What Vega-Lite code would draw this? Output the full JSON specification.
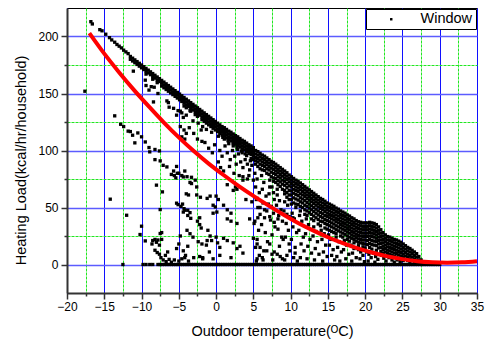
{
"$schema": "https://vega.github.io/schema/vega-lite/v6.json",
"width": 410, "height": 285,
"autosize": {"type": "none"},
"padding": {"left": 67, "top": 8, "right": 11, "bottom": 52},
"background": "white",
"config": {
  "view": {"stroke": "#000000", "strokeWidth": 1},
  "font": "Liberation Sans",
  "axis": {"labelFont": "Liberation Sans", "titleFont": "Liberation Sans", "labelColor": "#000000", "titleColor": "#000000", "titleFontWeight": "normal"}
},
"datasets": {
"fit": [
{"t":-17,"h":203},{"t":-15,"h":185},{"t":-13,"h":168.5},{"t":-11,"h":153},{"t":-9,"h":138.5},{"t":-7,"h":124.5},{"t":-5,"h":111.5},{"t":-3,"h":99.5},{"t":-1,"h":88.5},{"t":1,"h":78.5},{"t":3,"h":69},{"t":5,"h":60.2},{"t":7,"h":51.9},{"t":9,"h":43.9},{"t":11,"h":36.5},{"t":13,"h":29.9},{"t":15,"h":23.9},{"t":17,"h":18.7},{"t":19,"h":14.1},{"t":21,"h":10.3},{"t":23,"h":7.1},{"t":25,"h":4.7},{"t":27,"h":2.9},{"t":29,"h":1.9},{"t":31,"h":1.5},{"t":33,"h":1.9},{"t":35,"h":2.9}
],
"pts": [
{"t":-17.6,"h":152},{"t":-16.8,"h":213},{"t":-16.6,"h":211},{"t":-15.6,"h":206},{"t":-15.3,"h":205},{"t":-14.8,"h":202},{"t":-14.3,"h":199},{"t":-14,"h":197},{"t":-13.6,"h":195},{"t":-13.3,"h":193},{"t":-13,"h":191.5},{"t":-12.7,"h":190},{"t":-12.4,"h":188},{"t":-12.1,"h":186.5},{"t":-11.8,"h":185},
{"t":-11.5,"h":182.5},{"t":-11.5,"h":180},{"t":-11.2,"h":181},{"t":-11.2,"h":178.5},{"t":-10.9,"h":179.5},{"t":-10.9,"h":177},{"t":-10.6,"h":178},{"t":-10.6,"h":175.5},{"t":-10.3,"h":176.5},{"t":-10.3,"h":174},{"t":-10,"h":175},{"t":-10,"h":172.5},{"t":-9.7,"h":173.5},{"t":-9.7,"h":171},{"t":-9.4,"h":172},{"t":-9.4,"h":169.5},{"t":-9.4,"h":167},{"t":-9.1,"h":170.5},{"t":-9.1,"h":168},{"t":-8.8,"h":169},{"t":-8.8,"h":166.5},{"t":-8.5,"h":167.5},{"t":-8.5,"h":165},{"t":-8.5,"h":162.5},{"t":-8.2,"h":166},{"t":-8.2,"h":163.5},{"t":-7.9,"h":164.5},{"t":-7.9,"h":162},{"t":-7.9,"h":159.5},{"t":-7.6,"h":163},{"t":-7.6,"h":160.5},{"t":-7.3,"h":161.5},{"t":-7.3,"h":159},{"t":-7.3,"h":156.5},{"t":-7,"h":160},{"t":-7,"h":157.5},{"t":-7,"h":155},{"t":-6.7,"h":158.5},{"t":-6.7,"h":156},{"t":-6.7,"h":153.5},{"t":-6.4,"h":157},{"t":-6.4,"h":154.5},{"t":-6.4,"h":152},{"t":-6.1,"h":155.5},{"t":-6.1,"h":153},{"t":-6.1,"h":150.5},{"t":-5.8,"h":154},{"t":-5.8,"h":151.5},{"t":-5.8,"h":149},{"t":-5.5,"h":152.5},{"t":-5.5,"h":150},{"t":-5.5,"h":147.5},{"t":-5.2,"h":151},{"t":-5.2,"h":148.5},{"t":-5.2,"h":146},{"t":-4.9,"h":149.5},{"t":-4.9,"h":147},{"t":-4.9,"h":144.5},{"t":-4.6,"h":148},{"t":-4.6,"h":145.5},{"t":-4.6,"h":143},{"t":-4.3,"h":146.5},{"t":-4.3,"h":144},{"t":-4.3,"h":141.5},{"t":-4.3,"h":139},{"t":-4,"h":145},{"t":-4,"h":142.5},{"t":-4,"h":140},{"t":-4,"h":137.5},{"t":-3.7,"h":143.5},{"t":-3.7,"h":141},{"t":-3.7,"h":138.5},{"t":-3.4,"h":142},{"t":-3.4,"h":139.5},{"t":-3.4,"h":137},{"t":-3.4,"h":134.5},{"t":-3.1,"h":140.5},{"t":-3.1,"h":138},{"t":-3.1,"h":135.5},{"t":-2.8,"h":139},{"t":-2.8,"h":136.5},{"t":-2.8,"h":134},{"t":-2.8,"h":131.5},{"t":-2.5,"h":137.5},{"t":-2.5,"h":135},{"t":-2.5,"h":132.5},{"t":-2.5,"h":130},{"t":-2.2,"h":136},{"t":-2.2,"h":133.5},{"t":-2.2,"h":131},{"t":-1.9,"h":134.5},{"t":-1.9,"h":132},{"t":-1.9,"h":129.5},{"t":-1.9,"h":127},{"t":-1.6,"h":133},{"t":-1.6,"h":130.5},{"t":-1.6,"h":128},{"t":-1.6,"h":125.5},{"t":-1.3,"h":131.5},{"t":-1.3,"h":129},{"t":-1.3,"h":126.5},{"t":-1.3,"h":124},{"t":-1,"h":130},{"t":-1,"h":127.5},{"t":-1,"h":125},{"t":-1,"h":122.5},{"t":-0.7,"h":128.5},{"t":-0.7,"h":126},{"t":-0.7,"h":123.5},{"t":-0.7,"h":121},{"t":-0.4,"h":127},{"t":-0.4,"h":124.5},{"t":-0.4,"h":122},{"t":-0.4,"h":119.5},{"t":-0.1,"h":125.5},{"t":-0.1,"h":123},{"t":-0.1,"h":120.5},{"t":-0.1,"h":118},
{"t":0.2,"h":124},{"t":0.2,"h":121.5},{"t":0.2,"h":119},{"t":0.2,"h":116.5},{"t":0.5,"h":122.5},{"t":0.5,"h":120},{"t":0.5,"h":117.5},{"t":0.5,"h":115},{"t":0.8,"h":121},{"t":0.8,"h":118.5},{"t":0.8,"h":116},{"t":0.8,"h":113.5},{"t":1.1,"h":120},{"t":1.1,"h":117.5},{"t":1.1,"h":115},{"t":1.1,"h":112.5},{"t":1.1,"h":110},{"t":1.4,"h":118.5},{"t":1.4,"h":116},{"t":1.4,"h":113.5},{"t":1.4,"h":111},{"t":1.7,"h":117},{"t":1.7,"h":114.5},{"t":1.7,"h":112},{"t":1.7,"h":109.5},{"t":1.7,"h":106},{"t":2,"h":116},{"t":2,"h":113.5},{"t":2,"h":111},{"t":2,"h":108.5},{"t":2.3,"h":114.5},{"t":2.3,"h":112},{"t":2.3,"h":109.5},{"t":2.3,"h":107},{"t":2.3,"h":104},{"t":2.6,"h":113},{"t":2.6,"h":110.5},{"t":2.6,"h":108},{"t":2.6,"h":105.5},{"t":2.9,"h":112},{"t":2.9,"h":109.5},{"t":2.9,"h":107},{"t":2.9,"h":104.5},{"t":2.9,"h":101},{"t":3.2,"h":110.5},{"t":3.2,"h":108},{"t":3.2,"h":105.5},{"t":3.2,"h":103},{"t":3.5,"h":109},{"t":3.5,"h":106.5},{"t":3.5,"h":104},{"t":3.5,"h":101.5},{"t":3.5,"h":98},{"t":3.8,"h":108},{"t":3.8,"h":105.5},{"t":3.8,"h":103},{"t":3.8,"h":100.5},{"t":4.1,"h":106.5},{"t":4.1,"h":104},{"t":4.1,"h":101.5},{"t":4.1,"h":99},{"t":4.1,"h":95.5},{"t":4.4,"h":105},{"t":4.4,"h":102.5},{"t":4.4,"h":100},{"t":4.4,"h":97.5},{"t":4.7,"h":104},{"t":4.7,"h":101.5},{"t":4.7,"h":99},{"t":4.7,"h":96.5},{"t":4.7,"h":93},{"t":5,"h":102.5},{"t":5,"h":100},{"t":5,"h":97.5},{"t":5,"h":95},{"t":5,"h":92},
{"t":5.3,"h":100},{"t":5.3,"h":97},{"t":5.3,"h":94},{"t":5.3,"h":91},{"t":5.3,"h":88},{"t":5.6,"h":99},{"t":5.6,"h":96},{"t":5.6,"h":93},{"t":5.6,"h":90},{"t":5.6,"h":86},{"t":5.9,"h":97.5},{"t":5.9,"h":94.5},{"t":5.9,"h":91.5},{"t":5.9,"h":88},{"t":5.9,"h":84},{"t":6.2,"h":96},{"t":6.2,"h":93},{"t":6.2,"h":90},{"t":6.2,"h":87},{"t":6.2,"h":83},{"t":6.5,"h":95},{"t":6.5,"h":92},{"t":6.5,"h":89},{"t":6.5,"h":86},{"t":6.5,"h":82.5},{"t":6.8,"h":93.5},{"t":6.8,"h":90.5},{"t":6.8,"h":87.5},{"t":6.8,"h":84},{"t":6.8,"h":80},{"t":7.1,"h":92},{"t":7.1,"h":89},{"t":7.1,"h":86},{"t":7.1,"h":83},{"t":7.1,"h":79},{"t":7.4,"h":90.5},{"t":7.4,"h":87.5},{"t":7.4,"h":84.5},{"t":7.4,"h":81},{"t":7.4,"h":77},{"t":7.7,"h":89.5},{"t":7.7,"h":86.5},{"t":7.7,"h":83.5},{"t":7.7,"h":80},{"t":7.7,"h":76},{"t":7.7,"h":73},{"t":8,"h":88},{"t":8,"h":85},{"t":8,"h":82},{"t":8,"h":79},{"t":8,"h":75.5},{"t":8,"h":72},{"t":8.3,"h":86.5},{"t":8.3,"h":83.5},{"t":8.3,"h":80.5},{"t":8.3,"h":77},{"t":8.3,"h":73.5},{"t":8.3,"h":70},{"t":8.6,"h":85},{"t":8.6,"h":82},{"t":8.6,"h":79},{"t":8.6,"h":76},{"t":8.6,"h":72.5},{"t":8.6,"h":68.5},{"t":8.9,"h":83.5},{"t":8.9,"h":80.5},{"t":8.9,"h":77.5},{"t":8.9,"h":74},{"t":8.9,"h":70.5},{"t":8.9,"h":66},{"t":9.2,"h":82},{"t":9.2,"h":79},{"t":9.2,"h":76},{"t":9.2,"h":73},{"t":9.2,"h":69.5},{"t":9.2,"h":65},{"t":9.2,"h":62},{"t":9.5,"h":80.5},{"t":9.5,"h":77.5},{"t":9.5,"h":74.5},{"t":9.5,"h":71},{"t":9.5,"h":67.5},{"t":9.5,"h":63},{"t":9.5,"h":59},{"t":9.8,"h":78.5},{"t":9.8,"h":75.5},{"t":9.8,"h":72.5},{"t":9.8,"h":69},{"t":9.8,"h":65},{"t":9.8,"h":61},{"t":9.8,"h":57},
{"t":10.1,"h":77},{"t":10.1,"h":74},{"t":10.1,"h":71},{"t":10.1,"h":68},{"t":10.1,"h":64.5},{"t":10.1,"h":61},{"t":10.1,"h":57},{"t":10.1,"h":53},{"t":10.4,"h":75.5},{"t":10.4,"h":72.5},{"t":10.4,"h":69.5},{"t":10.4,"h":66},{"t":10.4,"h":62.5},{"t":10.4,"h":58.5},{"t":10.4,"h":54},{"t":10.7,"h":74},{"t":10.7,"h":71},{"t":10.7,"h":68},{"t":10.7,"h":65},{"t":10.7,"h":61.5},{"t":10.7,"h":57.5},{"t":10.7,"h":53},{"t":10.7,"h":50},{"t":11,"h":73},{"t":11,"h":70},{"t":11,"h":67},{"t":11,"h":64},{"t":11,"h":60.5},{"t":11,"h":56.5},{"t":11,"h":52.5},{"t":11.3,"h":71.5},{"t":11.3,"h":68.5},{"t":11.3,"h":65.5},{"t":11.3,"h":62},{"t":11.3,"h":58.5},{"t":11.3,"h":55},{"t":11.3,"h":51},{"t":11.3,"h":47},{"t":11.6,"h":70},{"t":11.6,"h":67},{"t":11.6,"h":64},{"t":11.6,"h":61},{"t":11.6,"h":57.5},{"t":11.6,"h":54},{"t":11.6,"h":50},{"t":11.9,"h":68.5},{"t":11.9,"h":65.5},{"t":11.9,"h":62.5},{"t":11.9,"h":59.5},{"t":11.9,"h":56},{"t":11.9,"h":52},{"t":11.9,"h":48},{"t":11.9,"h":44},{"t":12.2,"h":67},{"t":12.2,"h":64},{"t":12.2,"h":61},{"t":12.2,"h":58},{"t":12.2,"h":54.5},{"t":12.2,"h":51},{"t":12.2,"h":47},{"t":12.2,"h":43},{"t":12.5,"h":65.5},{"t":12.5,"h":62.5},{"t":12.5,"h":59.5},{"t":12.5,"h":56.5},{"t":12.5,"h":53},{"t":12.5,"h":49.5},{"t":12.5,"h":45.5},{"t":12.8,"h":64},{"t":12.8,"h":61},{"t":12.8,"h":58},{"t":12.8,"h":55},{"t":12.8,"h":51.5},{"t":12.8,"h":48},{"t":12.8,"h":44},{"t":12.8,"h":40},{"t":13.1,"h":62.5},{"t":13.1,"h":59.5},{"t":13.1,"h":56.5},{"t":13.1,"h":53.5},{"t":13.1,"h":50},{"t":13.1,"h":46.5},{"t":13.1,"h":42.5},{"t":13.1,"h":38.5},{"t":13.4,"h":61},{"t":13.4,"h":58},{"t":13.4,"h":55},{"t":13.4,"h":52},{"t":13.4,"h":48.5},{"t":13.4,"h":45},{"t":13.4,"h":41},{"t":13.7,"h":59.5},{"t":13.7,"h":56.5},{"t":13.7,"h":53.5},{"t":13.7,"h":50.5},{"t":13.7,"h":47},{"t":13.7,"h":43.5},{"t":13.7,"h":39.5},{"t":13.7,"h":35.5},{"t":14,"h":58},{"t":14,"h":55},{"t":14,"h":52},{"t":14,"h":49},{"t":14,"h":45.5},{"t":14,"h":42},{"t":14,"h":38},{"t":14,"h":34},{"t":14.3,"h":57},{"t":14.3,"h":54},{"t":14.3,"h":51},{"t":14.3,"h":48},{"t":14.3,"h":44.5},{"t":14.3,"h":41},{"t":14.3,"h":37.5},{"t":14.6,"h":55.5},{"t":14.6,"h":52.5},{"t":14.6,"h":49.5},{"t":14.6,"h":46.5},{"t":14.6,"h":43},{"t":14.6,"h":39.5},{"t":14.6,"h":36},{"t":14.6,"h":32},{"t":14.9,"h":54},{"t":14.9,"h":51},{"t":14.9,"h":48},{"t":14.9,"h":45},{"t":14.9,"h":42},{"t":14.9,"h":38.5},{"t":14.9,"h":35},{"t":14.9,"h":31},
{"t":15.2,"h":53},{"t":15.2,"h":50},{"t":15.2,"h":47},{"t":15.2,"h":44},{"t":15.2,"h":41},{"t":15.2,"h":37.5},{"t":15.2,"h":34},{"t":15.2,"h":30},{"t":15.5,"h":52},{"t":15.5,"h":49},{"t":15.5,"h":46},{"t":15.5,"h":43},{"t":15.5,"h":40},{"t":15.5,"h":36.5},{"t":15.5,"h":33},{"t":15.5,"h":29},{"t":15.8,"h":51},{"t":15.8,"h":48},{"t":15.8,"h":45},{"t":15.8,"h":42},{"t":15.8,"h":39},{"t":15.8,"h":35.5},{"t":15.8,"h":32},{"t":15.8,"h":28},{"t":16.1,"h":49.5},{"t":16.1,"h":46.5},{"t":16.1,"h":43.5},{"t":16.1,"h":40.5},{"t":16.1,"h":37.5},{"t":16.1,"h":34},{"t":16.1,"h":30.5},{"t":16.1,"h":27},{"t":16.4,"h":48.5},{"t":16.4,"h":45.5},{"t":16.4,"h":42.5},{"t":16.4,"h":39.5},{"t":16.4,"h":36.5},{"t":16.4,"h":33},{"t":16.4,"h":29.5},{"t":16.7,"h":47},{"t":16.7,"h":44},{"t":16.7,"h":41},{"t":16.7,"h":38},{"t":16.7,"h":35},{"t":16.7,"h":32},{"t":16.7,"h":28.5},{"t":16.7,"h":25},{"t":17,"h":46},{"t":17,"h":43},{"t":17,"h":40},{"t":17,"h":37},{"t":17,"h":34},{"t":17,"h":31},{"t":17,"h":27.5},{"t":17,"h":24},{"t":17.3,"h":45},{"t":17.3,"h":42},{"t":17.3,"h":39},{"t":17.3,"h":36},{"t":17.3,"h":33},{"t":17.3,"h":30},{"t":17.3,"h":26.5},{"t":17.6,"h":43.5},{"t":17.6,"h":40.5},{"t":17.6,"h":37.5},{"t":17.6,"h":34.5},{"t":17.6,"h":31.5},{"t":17.6,"h":28.5},{"t":17.6,"h":25},{"t":17.6,"h":22},{"t":17.9,"h":42.5},{"t":17.9,"h":39.5},{"t":17.9,"h":36.5},{"t":17.9,"h":33.5},{"t":17.9,"h":30.5},{"t":17.9,"h":27.5},{"t":17.9,"h":24},{"t":17.9,"h":20.5},{"t":18.2,"h":41},{"t":18.2,"h":38},{"t":18.2,"h":35},{"t":18.2,"h":32},{"t":18.2,"h":29},{"t":18.2,"h":26},{"t":18.2,"h":23},{"t":18.5,"h":40},{"t":18.5,"h":37},{"t":18.5,"h":34},{"t":18.5,"h":31},{"t":18.5,"h":28},{"t":18.5,"h":25},{"t":18.5,"h":22},{"t":18.5,"h":19},{"t":18.8,"h":38.5},{"t":18.8,"h":35.5},{"t":18.8,"h":32.5},{"t":18.8,"h":29.5},{"t":18.8,"h":26.5},{"t":18.8,"h":23.5},{"t":18.8,"h":20.5},{"t":19.1,"h":37.5},{"t":19.1,"h":34.5},{"t":19.1,"h":31.5},{"t":19.1,"h":28.5},{"t":19.1,"h":25.5},{"t":19.1,"h":22.5},{"t":19.1,"h":19.5},{"t":19.1,"h":16.5},{"t":19.4,"h":37},{"t":19.4,"h":34},{"t":19.4,"h":31},{"t":19.4,"h":28},{"t":19.4,"h":25},{"t":19.4,"h":22},{"t":19.4,"h":19},{"t":19.7,"h":36.5},{"t":19.7,"h":33.5},{"t":19.7,"h":30.5},{"t":19.7,"h":27.5},{"t":19.7,"h":24.5},{"t":19.7,"h":21.5},{"t":19.7,"h":18.5},{"t":19.7,"h":15.5},
{"t":20,"h":36.5},{"t":20,"h":33.5},{"t":20,"h":30.5},{"t":20,"h":27.5},{"t":20,"h":24.5},{"t":20,"h":21.5},{"t":20,"h":18},{"t":20,"h":14.5},{"t":20.3,"h":36.5},{"t":20.3,"h":33.5},{"t":20.3,"h":30.5},{"t":20.3,"h":27.5},{"t":20.3,"h":24.5},{"t":20.3,"h":21},{"t":20.3,"h":17.5},{"t":20.6,"h":37},{"t":20.6,"h":34},{"t":20.6,"h":31},{"t":20.6,"h":28},{"t":20.6,"h":25},{"t":20.6,"h":22},{"t":20.6,"h":18.5},{"t":20.6,"h":15},{"t":20.9,"h":36.5},{"t":20.9,"h":33.5},{"t":20.9,"h":30.5},{"t":20.9,"h":27.5},{"t":20.9,"h":24.5},{"t":20.9,"h":21},{"t":20.9,"h":17.5},{"t":20.9,"h":13.5},{"t":21.2,"h":36},{"t":21.2,"h":33},{"t":21.2,"h":30},{"t":21.2,"h":27},{"t":21.2,"h":24},{"t":21.2,"h":20.5},{"t":21.2,"h":17},{"t":21.5,"h":35},{"t":21.5,"h":32},{"t":21.5,"h":29},{"t":21.5,"h":26},{"t":21.5,"h":23},{"t":21.5,"h":20},{"t":21.5,"h":16.5},{"t":21.5,"h":12.5},{"t":21.8,"h":33},{"t":21.8,"h":30},{"t":21.8,"h":27},{"t":21.8,"h":24},{"t":21.8,"h":21},{"t":21.8,"h":18},{"t":21.8,"h":14.5},{"t":22.1,"h":30.5},{"t":22.1,"h":27.5},{"t":22.1,"h":24.5},{"t":22.1,"h":21.5},{"t":22.1,"h":18.5},{"t":22.1,"h":15},{"t":22.1,"h":11.5},{"t":22.4,"h":28},{"t":22.4,"h":25},{"t":22.4,"h":22},{"t":22.4,"h":19},{"t":22.4,"h":16},{"t":22.4,"h":13},{"t":22.4,"h":10},{"t":22.7,"h":26},{"t":22.7,"h":23},{"t":22.7,"h":20},{"t":22.7,"h":17},{"t":22.7,"h":14},{"t":22.7,"h":11},{"t":23,"h":24.5},{"t":23,"h":21.5},{"t":23,"h":18.5},{"t":23,"h":15.5},{"t":23,"h":12.5},{"t":23,"h":9.5},{"t":23.3,"h":24},{"t":23.3,"h":21},{"t":23.3,"h":18},{"t":23.3,"h":15},{"t":23.3,"h":12},{"t":23.3,"h":9},{"t":23.6,"h":23},{"t":23.6,"h":20},{"t":23.6,"h":17},{"t":23.6,"h":14},{"t":23.6,"h":11},{"t":23.6,"h":8},{"t":23.9,"h":22},{"t":23.9,"h":19},{"t":23.9,"h":16},{"t":23.9,"h":13},{"t":23.9,"h":10},{"t":23.9,"h":7},{"t":24.2,"h":21.5},{"t":24.2,"h":18.5},{"t":24.2,"h":15.5},{"t":24.2,"h":12.5},{"t":24.2,"h":9.5},{"t":24.2,"h":6.5},{"t":24.5,"h":20.5},{"t":24.5,"h":17.5},{"t":24.5,"h":14.5},{"t":24.5,"h":11.5},{"t":24.5,"h":8.5},{"t":24.5,"h":5.5},{"t":24.8,"h":19.5},{"t":24.8,"h":16.5},{"t":24.8,"h":13.5},{"t":24.8,"h":10.5},{"t":24.8,"h":7.5},{"t":24.8,"h":4.5},{"t":25.1,"h":18},{"t":25.1,"h":15},{"t":25.1,"h":12},{"t":25.1,"h":9},{"t":25.1,"h":6},{"t":25.1,"h":3.5},{"t":25.4,"h":16.5},{"t":25.4,"h":13.5},{"t":25.4,"h":10.5},{"t":25.4,"h":7.5},{"t":25.4,"h":4.5},{"t":25.7,"h":15},{"t":25.7,"h":12},{"t":25.7,"h":9},{"t":25.7,"h":6},{"t":25.7,"h":3.5},{"t":26,"h":14},{"t":26,"h":11},{"t":26,"h":8},{"t":26,"h":5},{"t":26,"h":2.5},{"t":26.3,"h":12.5},{"t":26.3,"h":9.5},{"t":26.3,"h":6.5},{"t":26.3,"h":3.5},{"t":26.6,"h":11},{"t":26.6,"h":8},{"t":26.6,"h":5},{"t":26.6,"h":2.5},{"t":26.9,"h":9.5},{"t":26.9,"h":6.5},{"t":26.9,"h":3.5},{"t":27.2,"h":7},{"t":27.2,"h":4},{"t":27.2,"h":2},{"t":27.5,"h":4},{"t":27.5,"h":2},
{"t":-11.1,"h":169.6},{"t":-9.5,"h":161.7},{"t":-8.7,"h":156},{"t":-8.3,"h":155.5},{"t":-8.4,"h":142.6},{"t":-6.6,"h":143.5},{"t":-6.4,"h":142},{"t":-5.7,"h":137},{"t":-4.8,"h":134.5},{"t":-4.6,"h":133},{"t":-5.3,"h":131},{"t":-4.4,"h":129},{"t":-4,"h":131},{"t":-3.5,"h":135},{"t":-3.1,"h":126},{"t":-2.4,"h":124},{"t":-1.8,"h":121},{"t":-1.3,"h":118.5},{"t":-0.6,"h":116},{"t":0.3,"h":112.5},{"t":0.9,"h":111.5},{"t":1.6,"h":108.5},{"t":2.3,"h":106},{"t":2.8,"h":102.5},{"t":3.4,"h":99.5},{"t":3.9,"h":97},{"t":4.6,"h":91},{"t":-1.9,"h":108},{"t":-1.5,"h":107},{"t":-4.8,"h":121},{"t":-4.3,"h":118},{"t":-4.6,"h":112},{"t":-4.2,"h":110},{"t":-4,"h":115},{"t":-9.4,"h":157},{"t":-9,"h":153},{"t":-7.8,"h":150},{"t":-6.3,"h":138},{"t":-5.1,"h":135},
{"t":0.5,"h":100},{"t":0.8,"h":95},{"t":1.2,"h":104},{"t":1.5,"h":98},{"t":1.9,"h":92},{"t":2.2,"h":100},{"t":2.5,"h":95},{"t":2.7,"h":88},{"t":3,"h":97},{"t":3.3,"h":90},{"t":3.6,"h":85},{"t":3.9,"h":92},{"t":4.2,"h":88},{"t":4.5,"h":83},{"t":4.8,"h":87},{"t":0.3,"h":90},{"t":0.6,"h":85},{"t":1,"h":82},{"t":1.8,"h":86},{"t":2.4,"h":80},{"t":3.1,"h":78},{"t":-0.5,"h":98},{"t":-1,"h":102},{"t":-0.2,"h":105},{"t":-2.5,"h":110},{"t":-3,"h":115},{"t":-2,"h":118},{"t":-3.6,"h":120},
{"t":-13.6,"h":130.4},{"t":-12.8,"h":123},{"t":-12.4,"h":121},{"t":-11.8,"h":117},{"t":-11.5,"h":116.6},{"t":-11.2,"h":113.4},{"t":-10.5,"h":115.4},{"t":-10,"h":112},{"t":-10.9,"h":106.7},{"t":-9.5,"h":107.5},{"t":-9,"h":102.6},{"t":-8.9,"h":98.8},{"t":-8.2,"h":100.9},{"t":-7.6,"h":99.6},{"t":-8.2,"h":92},{"t":-7.5,"h":90.9},{"t":-7.1,"h":87},{"t":-6.6,"h":85.6},{"t":-5.7,"h":82},{"t":-5.3,"h":86},{"t":-5,"h":80},{"t":-4.6,"h":78},{"t":-4.2,"h":82},{"t":-3.9,"h":77},{"t":-3.3,"h":76.5},{"t":-3.5,"h":72},{"t":-2.8,"h":74},{"t":-2.6,"h":68},{"t":-4,"h":62},{"t":-3.7,"h":61},{"t":-2.6,"h":61},{"t":-2.1,"h":59},{"t":-0.8,"h":60},{"t":-1.2,"h":58},{"t":0,"h":60},{"t":0.3,"h":57},{"t":2.3,"h":65},{"t":2.6,"h":68},{"t":2.8,"h":66},{"t":3.6,"h":77},{"t":4.2,"h":75},{"t":5,"h":74},
{"t":-14.2,"h":57.3},{"t":-12,"h":43.2},{"t":-10,"h":33.6},{"t":-10.2,"h":26.3},{"t":-9.5,"h":20.7},{"t":-8.6,"h":18},{"t":-8.5,"h":21},{"t":-8.2,"h":22},{"t":-8,"h":19.5},{"t":-7.8,"h":21.5},{"t":-7.6,"h":17},{"t":-7.3,"h":22},{"t":-7.5,"h":27.2},{"t":-7.3,"h":28},{"t":-8.2,"h":12.5},{"t":-7.9,"h":10.5},{"t":-7.6,"h":9},{"t":-7.4,"h":6},{"t":-7.1,"h":4},{"t":-6.7,"h":2.5},{"t":-6.8,"h":8},{"t":-6.5,"h":11},{"t":-6.3,"h":4.5},{"t":-6,"h":2},{"t":-5.6,"h":4},{"t":-5,"h":3},{"t":-4.6,"h":5},{"t":-5.3,"h":14},{"t":-5,"h":18},{"t":-4.8,"h":25},{"t":-4.4,"h":12},{"t":-4.1,"h":8},{"t":-3.8,"h":16},{"t":-3.7,"h":3},{"t":-7.5,"h":48.2},{"t":-7.2,"h":63.7},{"t":-8,"h":69.6},{"t":-6,"h":79},{"t":-5.6,"h":78},{"t":-5.4,"h":76},{"t":-5.2,"h":80},{"t":-5.3,"h":53.8},{"t":-5.1,"h":52.5},{"t":-4.7,"h":51},{"t":-4.3,"h":49},{"t":-4.5,"h":53},{"t":-3.8,"h":47.6},{"t":-4.2,"h":47.6},{"t":-3.8,"h":43},{"t":-3.4,"h":40.5},{"t":-2.5,"h":38},{"t":-2.2,"h":35},{"t":-2,"h":32},{"t":-1.1,"h":30},{"t":-0.8,"h":25},{"t":-0.6,"h":21},{"t":0,"h":24},{"t":0.2,"h":19},{"t":0.5,"h":15},{"t":-1.3,"h":17},{"t":-0.9,"h":11},{"t":-0.4,"h":5},{"t":-2.2,"h":7},{"t":-1.8,"h":5},{"t":-3.9,"h":30},{"t":-3.5,"h":27},{"t":-3.1,"h":24},{"t":-2.4,"h":20},{"t":-1.9,"h":18},{"t":-1.2,"h":21},{"t":-0.4,"h":52},{"t":-0.1,"h":50.5},{"t":1,"h":52},{"t":1.5,"h":48},{"t":2,"h":45},{"t":-4.4,"h":46},{"t":-3.5,"h":45.5},{"t":-2.2,"h":41},{"t":-0.4,"h":45},{"t":0.1,"h":46},{"t":1.5,"h":40},{"t":2,"h":38},{"t":2.8,"h":36},{"t":4.5,"h":40},{"t":5.1,"h":36},{"t":5.6,"h":41},{"t":7.2,"h":42},{"t":7.8,"h":37},{"t":8.3,"h":40},{"t":9.5,"h":44},{"t":10.3,"h":41},{"t":1,"h":23},{"t":1.5,"h":21},{"t":2.3,"h":19},{"t":2.8,"h":14},{"t":3.2,"h":16},{"t":5,"h":23},{"t":5.5,"h":18},{"t":5.9,"h":15},{"t":6.8,"h":12},{"t":7.5,"h":9},{"t":8.6,"h":7},{"t":9,"h":22},{"t":9.8,"h":18},{"t":10.6,"h":15},{"t":-4.2,"h":6},{"t":-3,"h":6},{"t":-1.8,"h":6},{"t":0.5,"h":8},{"t":2,"h":6},{"t":3.6,"h":10},{"t":5.5,"h":5},{"t":6.3,"h":4},{"t":-4.4,"h":76.8},{"t":-3.3,"h":71},{"t":1.5,"h":70},{"t":3.6,"h":74},{"t":4.4,"h":78},{"t":4,"h":57},{"t":4.8,"h":55},{"t":5.5,"h":58},{"t":5.9,"h":50},{"t":6.5,"h":48},{"t":7,"h":53},{"t":7.2,"h":68},{"t":7.7,"h":63},{"t":8.2,"h":66},
{"t":5.2,"h":80},{"t":5.5,"h":75},{"t":5.3,"h":68},{"t":5.8,"h":63},{"t":5.4,"h":57},{"t":5.6,"h":50},{"t":5.9,"h":44},{"t":5.2,"h":38},{"t":5.7,"h":30},{"t":5.5,"h":22},{"t":5.3,"h":15},{"t":5.8,"h":8},{"t":5.4,"h":3},{"t":6.1,"h":78},{"t":6.4,"h":72},{"t":6.2,"h":66},{"t":6.7,"h":60},{"t":6.3,"h":54},{"t":6.8,"h":47},{"t":6.5,"h":41},{"t":6.1,"h":35},{"t":6.6,"h":28},{"t":6.9,"h":20},{"t":6.4,"h":12},{"t":6.2,"h":6},{"t":7.2,"h":74},{"t":7.5,"h":68},{"t":7.1,"h":62},{"t":7.8,"h":57},{"t":7.4,"h":51},{"t":7.7,"h":45},{"t":7.3,"h":39},{"t":7.9,"h":33},{"t":7.5,"h":26},{"t":7.2,"h":18},{"t":7.8,"h":11},{"t":7.6,"h":4},{"t":8.2,"h":61},{"t":8.5,"h":56},{"t":8.1,"h":52},{"t":8.7,"h":48},{"t":8.4,"h":43},{"t":8.9,"h":38},{"t":8.3,"h":31},{"t":8.8,"h":24},{"t":8.5,"h":16},{"t":8.2,"h":9},{"t":8.9,"h":5},{"t":9.2,"h":55},{"t":9.6,"h":52},{"t":9.1,"h":47},{"t":9.8,"h":42},{"t":9.4,"h":36},{"t":9.7,"h":30},{"t":9.3,"h":24},{"t":9.9,"h":12},{"t":9.5,"h":8},{"t":9.2,"h":4},
{"t":10.2,"h":45},{"t":10.5,"h":40},{"t":10.3,"h":33},{"t":10.8,"h":28},{"t":10.1,"h":22},{"t":10.6,"h":10},{"t":10.4,"h":6},{"t":10.9,"h":3},{"t":11.2,"h":43},{"t":11.5,"h":38},{"t":11.1,"h":30},{"t":11.7,"h":24},{"t":11.4,"h":18},{"t":11.8,"h":12},{"t":11.3,"h":6},{"t":12.1,"h":40},{"t":12.4,"h":35},{"t":12,"h":27},{"t":12.6,"h":22},{"t":12.3,"h":16},{"t":12.8,"h":10},{"t":12.2,"h":5},{"t":13.1,"h":33},{"t":13.4,"h":29},{"t":13,"h":25},{"t":13.6,"h":20},{"t":13.3,"h":14},{"t":13.8,"h":9},{"t":13.2,"h":4},{"t":14.1,"h":30},{"t":14.5,"h":27},{"t":14.2,"h":22},{"t":14.7,"h":17},{"t":14.4,"h":11},{"t":14.9,"h":7},{"t":14.3,"h":3},{"t":15.1,"h":26},{"t":15.4,"h":22},{"t":15.2,"h":17},{"t":15.7,"h":13},{"t":15.5,"h":8},{"t":15.9,"h":4},{"t":16.1,"h":24},{"t":16.5,"h":20},{"t":16.3,"h":15},{"t":16.8,"h":11},{"t":16.2,"h":7},{"t":16.6,"h":3},{"t":17.2,"h":21},{"t":17.5,"h":17},{"t":17.1,"h":13},{"t":17.8,"h":9},{"t":17.4,"h":5},{"t":18.1,"h":17},{"t":18.5,"h":14},{"t":18.3,"h":10},{"t":18.8,"h":6},{"t":18.2,"h":3},{"t":19.1,"h":13},{"t":19.4,"h":11},{"t":19.7,"h":8},{"t":19.3,"h":5},{"t":19.9,"h":2.5},{"t":20.2,"h":11},{"t":20.5,"h":9},{"t":20.8,"h":6},{"t":20.4,"h":3},{"t":21.1,"h":10},{"t":21.4,"h":7},{"t":21.7,"h":4.5},{"t":21.3,"h":2},{"t":22.2,"h":8},{"t":22.5,"h":5.5},{"t":22.8,"h":3},{"t":23.2,"h":6},{"t":23.6,"h":4},{"t":23.9,"h":2},{"t":24.3,"h":4},{"t":24.7,"h":2.5},
{"t":-12.5,"h":0},{"t":-9.8,"h":0},{"t":-9.4,"h":0},{"t":-8.9,"h":0},{"t":-8.5,"h":0},{"t":-7.8,"h":0},{"t":-7.5,"h":0},{"t":-7.2,"h":0},{"t":-6.9,"h":0},{"t":-6.6,"h":0},{"t":-6.3,"h":0},{"t":-6,"h":0},{"t":-5.7,"h":0},{"t":-5.4,"h":0},{"t":-5.1,"h":0},{"t":-4.8,"h":0},{"t":-4.5,"h":0},{"t":-4.2,"h":0},{"t":-3.9,"h":0},{"t":-3.6,"h":0},{"t":-3.3,"h":0},{"t":-3,"h":0},{"t":-2.7,"h":0},{"t":-2.4,"h":0},{"t":-2.1,"h":0},{"t":-1.8,"h":0},{"t":-1.5,"h":0},{"t":-1.2,"h":0},{"t":-0.9,"h":0},{"t":-0.6,"h":0},{"t":-0.3,"h":0},{"t":0,"h":0},{"t":0.3,"h":0},{"t":0.6,"h":0},{"t":0.9,"h":0},{"t":1.2,"h":0},{"t":1.5,"h":0},{"t":1.8,"h":0},{"t":2.1,"h":0},{"t":2.4,"h":0},{"t":2.7,"h":0},{"t":3,"h":0},{"t":3.3,"h":0},{"t":3.6,"h":0},{"t":3.9,"h":0},{"t":4.2,"h":0},{"t":4.5,"h":0},{"t":4.8,"h":0},{"t":5.1,"h":0},{"t":5.4,"h":0},{"t":5.7,"h":0},{"t":6,"h":0},{"t":6.3,"h":0},{"t":6.6,"h":0},{"t":6.9,"h":0},{"t":7.2,"h":0},{"t":7.5,"h":0},{"t":7.8,"h":0},{"t":8.1,"h":0},{"t":8.4,"h":0},{"t":8.7,"h":0},{"t":9,"h":0},{"t":9.3,"h":0},{"t":9.6,"h":0},{"t":9.9,"h":0},{"t":10.2,"h":0},{"t":10.5,"h":0},{"t":10.8,"h":0},{"t":11.1,"h":0},{"t":11.4,"h":0},{"t":11.7,"h":0},{"t":12,"h":0},{"t":12.3,"h":0},{"t":12.6,"h":0},{"t":12.9,"h":0},{"t":13.2,"h":0},{"t":13.5,"h":0},{"t":13.8,"h":0},{"t":14.1,"h":0},{"t":14.4,"h":0},{"t":14.7,"h":0},{"t":15,"h":0},{"t":15.3,"h":0},{"t":15.6,"h":0},{"t":15.9,"h":0},{"t":16.2,"h":0},{"t":16.5,"h":0},{"t":16.8,"h":0},{"t":17.1,"h":0},{"t":17.4,"h":0},{"t":17.7,"h":0},{"t":18,"h":0},{"t":18.3,"h":0},{"t":18.6,"h":0},{"t":18.9,"h":0},{"t":19.2,"h":0},{"t":19.5,"h":0},{"t":19.8,"h":0},{"t":20.1,"h":0},{"t":20.4,"h":0},{"t":20.7,"h":0},{"t":21,"h":0},{"t":21.3,"h":0},{"t":21.6,"h":0},{"t":21.9,"h":0},{"t":22.2,"h":0},{"t":22.5,"h":0},{"t":22.8,"h":0},{"t":23.1,"h":0},{"t":23.4,"h":0},{"t":23.7,"h":0},{"t":24,"h":0},{"t":24.3,"h":0},{"t":24.6,"h":0},{"t":24.9,"h":0},{"t":25.2,"h":0},{"t":25.5,"h":0},{"t":25.8,"h":0},{"t":26.1,"h":0},{"t":26.4,"h":0},{"t":26.7,"h":0},{"t":27,"h":0},{"t":27.3,"h":0},{"t":27.6,"h":0},{"t":27.9,"h":0},{"t":28.2,"h":0},{"t":28.5,"h":0},{"t":28.8,"h":0},{"t":29.1,"h":0},{"t":29.4,"h":0},{"t":29.7,"h":0},{"t":30,"h":0}
]
},
"layer": [
  {
    "data": {"name": "pts"},
    "mark": {"type": "square", "size": 11, "opacity": 1},
    "encoding": {
      "x": {"field": "t", "type": "quantitative", "scale": {"domain": [-20, 35], "nice": false, "zero": false},
        "axis": {"orient": "bottom", "values": [-17.5, -12.5, -7.5, -2.5, 2.5, 7.5, 12.5, 17.5, 22.5, 27.5, 32.5], "labels": false, "domain": false, "ticks": true, "tickSize": 3, "tickColor": "#333333", "tickWidth": 1.5, "grid": true, "gridColor": "#22e622", "gridDash": [3, 1], "gridWidth": 1, "title": null}},
      "y": {"field": "h", "type": "quantitative", "scale": {"domain": [-25, 225], "nice": false, "zero": false},
        "axis": {"orient": "left", "values": [25, 75, 125, 175], "labels": false, "domain": false, "ticks": true, "tickSize": 3, "tickColor": "#333333", "tickWidth": 1.5, "grid": true, "gridColor": "#22e622", "gridDash": [3, 1], "gridWidth": 1, "title": null}},
      "color": {"datum": "Window", "type": "nominal", "scale": {"range": ["#000000"]},
        "legend": {"title": null, "orient": "top-right", "offset": 1, "padding": 3, "strokeColor": "#000000", "fillColor": "#ffffff", "cornerRadius": 0, "symbolType": "square", "symbolSize": 6, "symbolOffset": 15, "labelOffset": 22, "labelFontSize": 14.5, "labelFont": "Liberation Sans", "labelColor": "#000000", "labelExpr": "datum.label + '  '"}}
    }
  },
  {
    "data": {"name": "fit"},
    "mark": {"type": "line", "color": "#ff0000", "strokeWidth": 4, "interpolate": "monotone"},
    "encoding": {
      "x": {"field": "t", "type": "quantitative",
        "axis": {"orient": "bottom", "values": [-20, -15, -10, -5, 0, 5, 10, 15, 20, 25, 30, 35], "labelFlush": false, "labelOverlap": false, "labelFontSize": 12, "labelPadding": 2, "domain": true, "domainColor": "#333333", "domainWidth": 2, "ticks": true, "tickSize": 6, "tickColor": "#333333", "tickWidth": 1.5, "grid": true, "gridColor": "#1010ff", "gridWidth": 1, "title": "Outdoor temperature(ᴼC)", "titleFontSize": 14.5, "titlePadding": 12}},
      "y": {"field": "h", "type": "quantitative",
        "axis": {"orient": "left", "values": [0, 50, 100, 150, 200], "labelFontSize": 12, "labelPadding": 3, "domain": true, "domainColor": "#333333", "domainWidth": 2, "ticks": true, "tickSize": 6, "tickColor": "#333333", "tickWidth": 1.5, "grid": true, "gridColor": "#5c5cff", "gridWidth": 1.5, "title": "Heating Load(kcal/hr/household)", "titleFontSize": 14.5, "titlePadding": 9, "titleY": 152}}
    }
  }
],
"resolve": {"axis": {"x": "independent", "y": "independent"}}
}
